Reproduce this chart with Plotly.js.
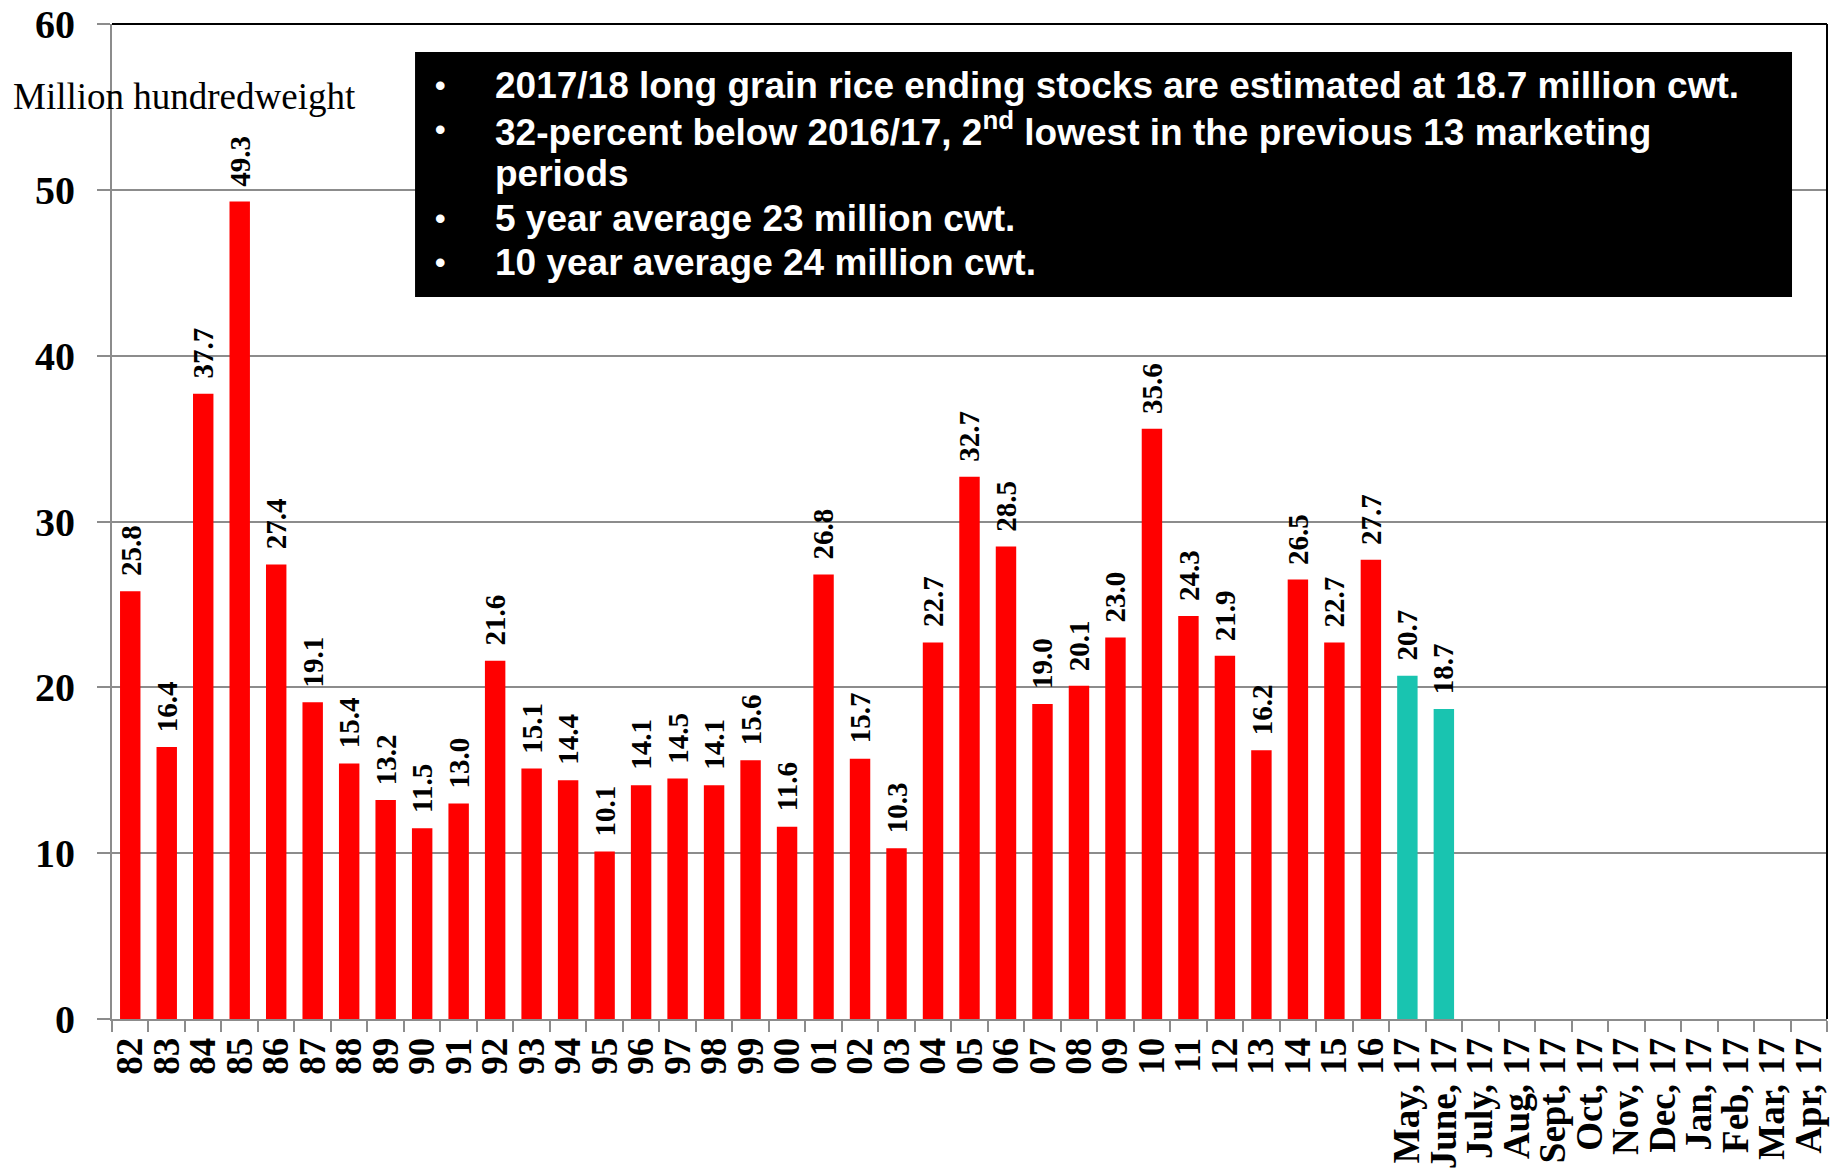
<!DOCTYPE html>
<html>
<head>
<meta charset="utf-8">
<script src="https://cdn.plot.ly/plotly-3.0.1.min.js"></script>
<style>html,body{margin:0;padding:0;background:#fff;}#chart{width:1839px;height:1170px;}</style>
</head>
<body>
<div id="chart"></div>
<script>
// Historical marketing years (ending stocks, million cwt)
const yearLabels = ["82","83","84","85","86","87","88","89","90","91","92","93","94","95","96","97","98","99","00","01","02","03","04","05","06","07","08","09","10","11","12","13","14","15","16"];
const yearValues = [25.8,16.4,37.7,49.3,27.4,19.1,15.4,13.2,11.5,13.0,21.6,15.1,14.4,10.1,14.1,14.5,14.1,15.6,11.6,26.8,15.7,10.3,22.7,32.7,28.5,19.0,20.1,23.0,35.6,24.3,21.9,16.2,26.5,22.7,27.7];
// 2017/18 monthly estimates
const monthLabels = ["May, 17","June, 17","July, 17","Aug, 17","Sept, 17","Oct, 17","Nov, 17","Dec, 17","Jan, 17","Feb, 17","Mar, 17","Apr, 17"];
const monthValues = [20.7,18.7];
const yTicks = [0,10,20,30,40,50,60];
const yAxisLabel = "Million hundredweight";
const boxLines = [
  "2017/18 long grain rice ending stocks are estimated at 18.7 million cwt.",
  "32-percent below 2016/17, 2<sup>nd</sup> lowest in the previous 13 marketing",
  "periods",
  "5 year average 23 million cwt.",
  "10 year average 24 million cwt."
];
const boxBullets = [true, true, false, true, true];

const allCats = yearLabels.concat(monthLabels);
const monthCatsWithData = monthLabels.slice(0, monthValues.length);

const serif = "'Liberation Serif', 'Times New Roman', serif";
const sans = "'Liberation Sans', Arial, sans-serif";

const traces = [
  {type:'bar', x: yearLabels, y: yearValues, marker:{color:'#FF0000'}, hoverinfo:'x+y', cliponaxis:false},
  {type:'bar', x: monthCatsWithData, y: monthValues, marker:{color:'#19C4B0'}, hoverinfo:'x+y', cliponaxis:false}
];

const annotations = [];
// value labels above bars
function addLabels(cats, vals){
  cats.forEach((c,i)=>{
    annotations.push({x: allCats.indexOf(c), y: vals[i], xref:'x', yref:'y', text: '<b>' + vals[i].toFixed(1) + '</b>', showarrow:false,
      textangle:-90, yanchor:'bottom', xanchor:'center', yshift:13,
      font:{family:serif, size:29, color:'#000'}});
  });
}
addLabels(yearLabels, yearValues);
addLabels(monthCatsWithData, monthValues);

// axis unit label
annotations.push({xref:'paper', yref:'paper', x:-0.059, y:0.927, xanchor:'left', yanchor:'middle',
  text:yAxisLabel, showarrow:false, font:{family:serif, size:37, color:'#000'}});

// text box lines
const boxY = [0.938, 0.8943, 0.8495, 0.8046, 0.7598];
boxLines.forEach((t,i)=>{
  annotations.push({xref:'paper', yref:'paper', x:0.2222, y:boxY[i], xanchor:'left', yanchor:'middle',
    text:'<b>' + t + '</b>', showarrow:false, font:{family:sans, size:37, color:'#fff'}});
  if (boxBullets[i]) {
    annotations.push({xref:'paper', yref:'paper', x:0.1918, y:boxY[i], xanchor:'center', yanchor:'middle',
      text:'<b>•</b>', showarrow:false, font:{family:sans, size:30, color:'#fff'}});
  }
});

const layout = {
  width:1839, height:1170,
  margin:{l:112, r:12, t:24, b:151, pad:0},
  paper_bgcolor:'#fff', plot_bgcolor:'#fff',
  showlegend:false,
  barmode:'overlay',
  bargap:0.44,
  xaxis:{type:'category', categoryorder:'array', categoryarray:allCats, range:[-0.5, allCats.length-0.5],
    tickmode:'array', tickvals:allCats, ticktext:allCats.map(s=>'<b>'+s+'</b>'),
    tickangle:-90, tickfont:{family:serif, size:37, color:'#000'},
    ticks:'outside', ticklen:11, tickwidth:2, tickcolor:'#8c8c8c',
    tickson:'boundaries', showline:true, linecolor:'#8c8c8c', linewidth:2,
    showgrid:false, zeroline:false, fixedrange:true, ticklabelstandoff:2},
  yaxis:{range:[0,60], tickmode:'array', tickvals:yTicks, ticktext:yTicks.map(v=>'<b>'+v+'</b>'),
    tickfont:{family:serif, size:40, color:'#000'},
    ticks:'outside', ticklen:13, tickwidth:2, tickcolor:'#8c8c8c',
    showline:true, linecolor:'#8c8c8c', linewidth:2,
    showgrid:true, gridcolor:'#8c8c8c', gridwidth:2, zeroline:false, fixedrange:true,
    ticklabelstandoff:14},
  shapes:[
    {type:'line', xref:'paper', yref:'paper', x0:0, x1:1, y0:1, y1:1, line:{color:'#000', width:2}},
    {type:'line', xref:'paper', yref:'paper', x0:1, x1:1, y0:0, y1:1, line:{color:'#000', width:2}},
    {type:'rect', xref:'paper', yref:'paper', x0:0.1767, x1:0.9796, y0:0.7256, y1:0.9719,
      fillcolor:'#000', line:{width:0}, layer:'above'}
  ],
  annotations: annotations
};

Plotly.newPlot('chart', traces, layout, {displayModeBar:false, staticPlot:true});
</script>
</body>
</html>
